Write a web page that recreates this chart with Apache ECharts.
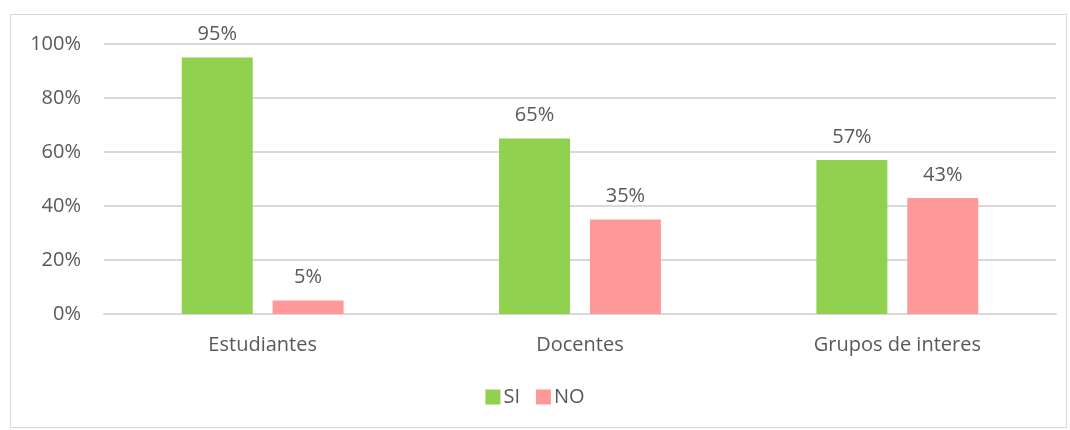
<!DOCTYPE html>
<html>
<head>
<meta charset="utf-8">
<script src="https://cdn.jsdelivr.net/npm/echarts@6/dist/echarts.min.js"></script>
<style>
  html, body { margin: 0; padding: 0; background: #fff; }
  #frame { position: absolute; left: 10px; top: 14px; width: 1057px; height: 414px; border: 1px solid #d9d9d9; box-sizing: border-box; }
  #chart { position: absolute; left: 0; top: 0; width: 1070px; height: 430px; }
</style>
</head>
<body>
<div id="frame"></div>
<div id="chart"></div>
<script>
// categorias y valores (%)
var categorias = ['Estudiantes', 'Docentes', 'Grupos de interes'];
var valoresSI = [95, 65, 57];
var valoresNO = [5, 35, 43];
var ticksY = [0, 20, 40, 60, 80, 100];

var fuente = '"Open Sans", "Liberation Sans", sans-serif';
var gris = '#595959';
var tam = 20;

var myChart = echarts.init(document.getElementById('chart'));
myChart.setOption({
  color: ['#92d050', '#ff9999'],
  animation: false,
  grid: { left: 104, right: 14, top: 44, bottom: 116 },
  legend: {
    bottom: 18,
    left: 'center',
    itemWidth: 15,
    itemHeight: 15,
    itemGap: 16,
    icon: 'rect',
    textStyle: { color: gris, fontSize: tam, fontFamily: fuente, padding: [0, 0, 0, -2] },
    data: ['SI', 'NO']
  },
  xAxis: {
    type: 'category',
    data: categorias,
    axisLine: { lineStyle: { color: '#d9d9d9', width: 2 } },
    axisTick: { show: false },
    axisLabel: { color: gris, fontSize: tam, fontFamily: fuente, margin: 21 }
  },
  yAxis: {
    type: 'value',
    min: ticksY[0],
    max: ticksY[ticksY.length - 1],
    interval: 20,
    axisLine: { show: false },
    axisTick: { show: false },
    splitLine: { lineStyle: { color: '#d9d9d9', width: 2 } },
    axisLabel: {
      color: gris, fontSize: tam, fontFamily: fuente, margin: 23,
      formatter: function (v) { return v + '%'; }
    }
  },
  series: [
    {
      name: 'SI', type: 'bar', data: valoresSI,
      barWidth: 71, barGap: '28%',
      label: { show: true, position: 'top', distance: 13, color: gris, fontSize: tam, fontFamily: fuente,
        formatter: function (p) { return p.value + '%'; } }
    },
    {
      name: 'NO', type: 'bar', data: valoresNO,
      barWidth: 71,
      label: { show: true, position: 'top', distance: 13, color: gris, fontSize: tam, fontFamily: fuente,
        formatter: function (p) { return p.value + '%'; } }
    }
  ]
});
</script>
</body>
</html>
